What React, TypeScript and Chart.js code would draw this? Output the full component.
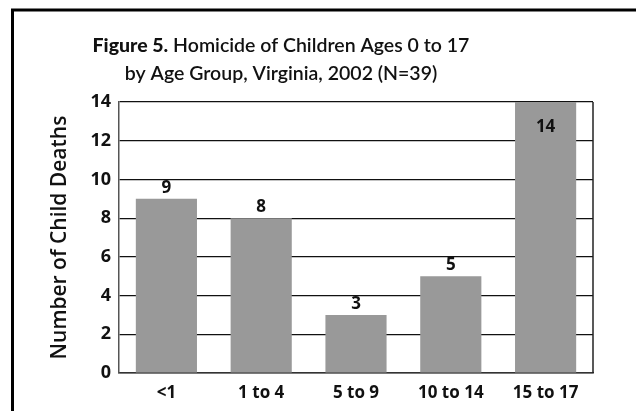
import React, { useEffect, useRef } from "react";
import { Chart, registerables } from "chart.js";

Chart.register(...registerables);

const categories = ["<1", "1 to 4", "5 to 9", "10 to 14", "15 to 17"];
const deaths = [9, 8, 3, 5, 14];
const yMax = 14;
const yStep = 2;
const titleBold = "Figure 5.";
const titleRest = " Homicide of Children Ages 0 to 17";
const titleLine2 = "by Age Group, Virginia, 2002 (N=39)";
const yTitle = "Number of Child Deaths";

const FONT = "Lato, 'Open Sans', sans-serif";
const AXFONT = "'Open Sans', sans-serif";
const W = 636;
const H = 411;

const framePlugin = {
  id: "frame",
  afterDraw(chart: any) {
    const ctx = chart.ctx;
    ctx.save();
    ctx.strokeStyle = "#000";
    ctx.lineWidth = 3;
    ctx.beginPath();
    ctx.moveTo(12.5, H);
    ctx.lineTo(12.5, 10);
    ctx.lineTo(W, 10);
    ctx.stroke();
    const a = chart.chartArea;
    ctx.lineWidth = 1.5;
    ctx.strokeStyle = "#222";
    ctx.beginPath();
    ctx.moveTo(a.right, a.top);
    ctx.lineTo(a.right, a.bottom);
    ctx.stroke();
    ctx.restore();
  },
};

const titlePlugin = {
  id: "mixedTitle",
  afterDraw(chart: any) {
    const ctx = chart.ctx;
    ctx.save();
    ctx.fillStyle = "#111";
    ctx.textBaseline = "alphabetic";
    const boldFont = `900 19.5px ${FONT}`;
    const regFont = `600 19.5px ${FONT}`;
    ctx.font = boldFont;
    const wb = ctx.measureText(titleBold).width;
    ctx.font = regFont;
    const wr = ctx.measureText(titleRest).width;
    const cx = 281;
    const x = cx - (wb + wr) / 2;
    ctx.textAlign = "left";
    ctx.font = boldFont;
    ctx.fillText(titleBold, x, 52);
    ctx.font = regFont;
    ctx.fillText(titleRest, x + wb, 52);
    ctx.textAlign = "center";
    ctx.fillText(titleLine2, cx, 80);
    ctx.restore();
  },
};

const labelPlugin = {
  id: "barLabels",
  afterDatasetsDraw(chart: any) {
    const ctx = chart.ctx;
    const meta = chart.getDatasetMeta(0);
    const data = chart.data.datasets[0].data;
    ctx.save();
    ctx.font = `700 17px ${AXFONT}`;
    ctx.fillStyle = "#111";
    ctx.textAlign = "center";
    ctx.textBaseline = "middle";
    meta.data.forEach((bar: any, i: number) => {
      const top = bar.y;
      const inside = top - chart.chartArea.top < 24;
      const y = inside ? top + 25 : top - 11;
      ctx.fillText(String(data[i]), bar.x, y);
    });
    ctx.restore();
  },
};

export default function App() {
  const ref = useRef<HTMLCanvasElement>(null);
  useEffect(() => {
    document.body.style.margin = "0";
    const chart = new Chart(ref.current!, {
      type: "bar",
      data: {
        labels: categories,
        datasets: [
          {
            data: deaths,
            backgroundColor: "#999999",
            borderWidth: 0,
            barPercentage: 0.645,
            categoryPercentage: 1,
          },
        ],
      },
      plugins: [framePlugin, titlePlugin, labelPlugin],
      options: {
        responsive: false,
        animation: false,
        layout: { padding: { top: 102, right: 43, bottom: 0, left: 0 } },
        plugins: {
          legend: { display: false },
          title: { display: false },
          tooltip: { enabled: false },
        },
        scales: {
          x: {
            afterFit: (s: any) => {
              s.height = 38;
            },
            grid: { drawOnChartArea: false, drawTicks: false },
            border: { display: true, color: "#333", width: 1.5 },
            ticks: {
              padding: 10,
              color: "#111",
              font: { family: AXFONT, size: 17, weight: "bold" },
            },
          },
          y: {
            min: 0,
            max: yMax,
            afterFit: (s: any) => {
              s.width = 119;
            },
            grid: { color: "#111", lineWidth: 1.2, drawTicks: false },
            border: { display: true, color: "#555", width: 1.5 },
            ticks: {
              stepSize: yStep,
              padding: 8,
              color: "#111",
              font: { family: AXFONT, size: 18, weight: "bold" },
            },
            title: {
              display: true,
              text: yTitle,
              color: "#111",
              padding: { top: 47, bottom: 0 },
              font: { family: AXFONT, size: 21, weight: "600" },
            },
          },
        },
      },
    });
    return () => chart.destroy();
  }, []);
  return (
    <div style={{ position: "absolute", left: 0, top: 0, width: W, height: H, background: "#fff" }}>
      <canvas ref={ref} width={W} height={H} />
    </div>
  );
}
